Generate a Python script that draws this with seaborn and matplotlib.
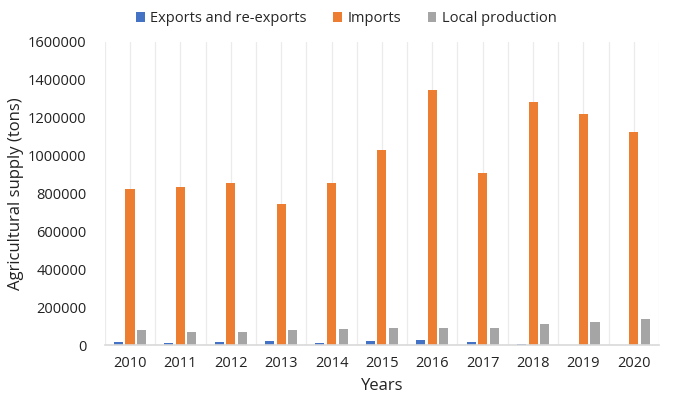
import numpy as np
import pandas as pd
import matplotlib
matplotlib.use("Agg")
import matplotlib.pyplot as plt
import seaborn as sns

# data
years = [str(y) for y in range(2010, 2021)]
exports = [14000, 11000, 17000, 22000, 11000, 24000, 27000, 16000, 4000, 1500, 500]
imports = [822000, 834000, 857000, 745000, 857000, 1031000, 1347000, 907000, 1285000, 1221000, 1125000]
local_prod = [80000, 70000, 70000, 82000, 84000, 90000, 89000, 90000, 110000, 123000, 138000]

series_names = ["Exports and re-exports", "Imports", "Local production"]
colors = ["#4472C4", "#ED7D31", "#A5A5A5"]

df = pd.DataFrame({
    "year": years * 3,
    "series": np.repeat(series_names, len(years)),
    "value": exports + imports + local_prod,
})

sns.set_theme(style="white")
plt.rcParams["font.family"] = ["Open Sans", "DejaVu Sans"]

fig = plt.figure(figsize=(6.85, 4.07), dpi=100)
ax = fig.add_axes([0.153, 0.152, 0.809, 0.745])

# vertical gridlines at category centers and boundaries
for xv in np.arange(-0.5, 11.0, 0.5):
    ax.axvline(xv, color="#EBEBEB", lw=0.9, zorder=0)

sns.barplot(data=df, x="year", y="value", hue="series", hue_order=series_names,
            palette=colors, width=0.69, gap=0.22, ax=ax, saturation=1,
            edgecolor="none", zorder=2)

ax.set_xlim(-0.5, 10.5)
ax.set_ylim(0, 1600000)
ax.set_yticks(np.arange(0, 1600001, 200000))
ax.set_yticklabels([str(v) for v in range(0, 1600001, 200000)], fontsize=10.5, color="#222222")
ax.tick_params(axis="x", labelsize=10.5, colors="#222222", length=0, pad=8)
ax.tick_params(axis="y", length=0, pad=13)

for side in ["left", "right", "top"]:
    ax.spines[side].set_visible(False)
ax.spines["bottom"].set_color("#D9D9D9")
ax.spines["bottom"].set_linewidth(1.2)

ax.set_xlabel("Years", fontsize=12, color="#222222", labelpad=5)
ax.set_ylabel("Agricultural supply (tons)", fontsize=12, color="#222222", labelpad=3)

handles, labels = ax.get_legend_handles_labels()
ax.legend(handles, labels, loc="center", bbox_to_anchor=(0.436, 1.077), ncol=3,
          frameon=False, fontsize=10.5, handlelength=0.6, handleheight=0.6,
          handletextpad=0.4, columnspacing=1.8)

fig.savefig("out.png", dpi=100)
